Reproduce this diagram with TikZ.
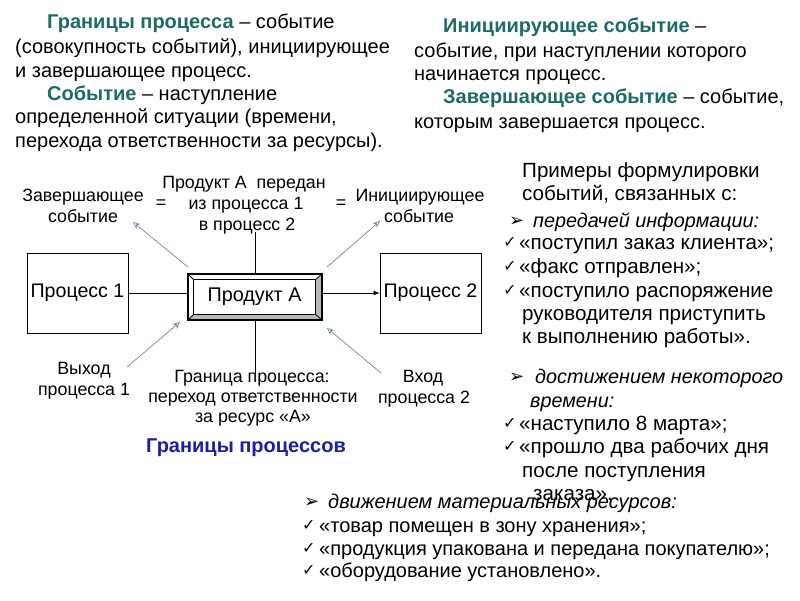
\documentclass[tikz,border=0pt]{standalone}
\usepackage{fontspec}
\setmainfont{Liberation Sans}
\newfontfamily\symfont{DejaVu Sans}
\usetikzlibrary{arrows.meta,positioning}

\definecolor{headteal}{RGB}{28,108,100}
\definecolor{titleblue}{RGB}{28,28,168}
\definecolor{evgray}{RGB}{95,125,155}
\definecolor{bevelgray}{RGB}{185,185,185}

\tikzset{
  txt/.style={anchor=base west, inner sep=0pt, font=\fontsize{20}{23}\selectfont},
  rtxt/.style={anchor=base west, inner sep=0pt, font=\fontsize{20.6}{23}\selectfont},
  itxt/.style={anchor=base west, inner sep=0pt, font=\itshape\fontsize{19.8}{23}\selectfont},
  lbl/.style={anchor=base, inner sep=0pt, font=\fontsize{17.8}{20}\selectfont},
  procbox/.style={draw, line width=0.8pt, minimum width=101pt, minimum height=80pt, inner sep=0pt, font=\fontsize{19.6}{22}\selectfont},
  evarrow/.style={draw=evgray, line width=0.6pt, -{Stealth[open,length=7pt,width=6pt]}},
  tick/.style={anchor=base west, inner sep=0pt, font=\symfont\fontsize{16}{18}\selectfont},
  pointer/.style={anchor=base west, inner sep=0pt, font=\symfont\fontsize{18}{20}\selectfont},
}
\newcommand{\hd}[1]{\textbf{\color{headteal}#1}}

\begin{document}
\begin{tikzpicture}[x=1pt, y=-1pt]
    \fill[white] (0,0) rectangle (800,600);
    \useasboundingbox (0,0) rectangle (800,600);

    % Definitions, top left
    \node[txt] (tl1) at (47,28)  {\hd{Границы процесса} -- событие};
    \node[txt] (tl2) at (15,53)  {(совокупность событий), инициирующее};
    \node[txt] (tl3) at (15,77)  {и завершающее процесс.};
    \node[txt] (tl4) at (47,100) {\hd{Событие} -- наступление};
    \node[txt] (tl5) at (15,123) {определенной ситуации (времени,};
    \node[txt] (tl6) at (15,147) {перехода ответственности за ресурсы).};

    % Definitions, top right
    \node[txt] (tr1) at (443,32)  {\hd{Инициирующее событие} --};
    \node[txt] (tr2) at (414,57)  {событие, при наступлении которого};
    \node[txt] (tr3) at (414,80)  {начинается процесс.};
    \node[txt] (tr4) at (443,103) {\hd{Завершающее событие} -- событие,};
    \node[txt] (tr5) at (414,128) {которым завершается процесс.};

    % Processes and the product between them
    \node[procbox] (p1) at (77.5,293) {Процесс 1};
    \node[procbox] (p2) at (430.5,293) {Процесс 2};
    \node[minimum width=134pt, minimum height=46pt, inner sep=0pt] (prod) at (255,297) {};
    \node[minimum width=121pt, minimum height=34pt, inner sep=0pt,
          font=\fontsize{19.8}{22}\selectfont] (prodin) at (254.5,297) {Продукт А};
    % bevel: shaded right and bottom faces
    \fill[bevelgray] (prod.north east) -- (prodin.north east) -- (prodin.south east) -- (prod.south east) -- cycle;
    \fill[bevelgray] (prod.south west) -- (prodin.south west) -- (prodin.south east) -- (prod.south east) -- cycle;
    \draw[line width=0.8pt] (prodin.north west) rectangle (prodin.south east);
    \foreach \c in {north west,north east,south west,south east}
      \draw[line width=0.8pt] (prod.\c) -- (prodin.\c);
    \draw[line width=2.4pt] (prod.north west) rectangle (prod.south east);

    \draw[line width=0.8pt] (p1.east) -- (p1.east -| prod.west);
    \draw[line width=0.8pt, -{Latex[length=6pt,width=5pt]}] (p2.west -| prod.east) -- (p2.west);

    % Boundary line through the product
    \coordinate (bndtop) at (255,232);
    \coordinate (bndbot) at (255,373);
    \draw[line width=0.6pt] (prod.north) -- (bndtop);
    \draw[line width=0.6pt] (prod.south) -- (bndbot);

    % Labels round the product
    \node[lbl] (endev1) at (83,201) {Завершающее};
    \node[lbl] (endev2) at (83,222) {событие};
    \node[lbl] (eq1) at (161,208) {=};
    \node[lbl] (pass1) at (244,188) {Продукт А\ \ передан};
    \node[lbl] (pass2) at (246,209) {из процесса 1};
    \node[lbl] (pass3) at (247,230) {в процесс 2};
    \node[lbl] (eq2) at (341,208) {=};
    \node[lbl] (iniev1) at (420,201) {Инициирующее};
    \node[lbl] (iniev2) at (419,222) {событие};
    \node[lbl] (out1) at (84,374) {Выход};
    \node[lbl] (out2) at (84,395) {процесса 1};
    \node[lbl] (bnd1) at (252,382) {Граница процесса:};
    \node[lbl] (bnd2) at (253,402) {переход ответственности};
    \node[lbl] (bnd3) at (253,422) {за ресурс «А»};
    \node[lbl] (in1) at (423,382) {Вход};
    \node[lbl] (in2) at (424,403) {процесса 2};
    \node[lbl, font=\bfseries\fontsize{20}{22}\selectfont, text=titleblue] (title) at (246,452) {Границы процессов};

    % Event arrows
    \coordinate (a1s) at (188,267); \coordinate (a1e) at (133,222);
    \coordinate (a2s) at (327,267); \coordinate (a2e) at (380,221);
    \coordinate (a3s) at (127,367); \coordinate (a3e) at (180,322);
    \coordinate (a4s) at (381,373); \coordinate (a4e) at (327,328);
    \foreach \i in {1,...,4}
      \draw[evarrow] (a\i s) -- (a\i e);

    % Examples, right column
    \node[rtxt] (ex1) at (522,177) {Примеры формулировки};
    \node[rtxt] (ex2) at (522,200) {событий, связанных с:};
    \node[pointer] (grp1) at (509,226) {➢};
    \node[itxt] (grp1t) at (533,227) {передачей информации:};
    \foreach \y/\t [count=\i] in {249/{«поступил заказ клиента»;}, 273/{«факс отправлен»;}, 297/{«поступило распоряжение}, 430/{«наступило 8 марта»;}, 453/{«прошло два рабочих дня}} {
      \node[tick] (ck\i) at (503,\y-2) {✓};
      \node[rtxt] (ckt\i) at (519,\y) {\t};
    }
    \node[rtxt] (ckt3b) at (522,320) {руководителя приступить};
    \node[rtxt] (ckt3c) at (522,343) {к выполнению работы».};
    \node[pointer] (grp2) at (509,382) {➢};
    \node[itxt] (grp2t) at (535,383) {достижением некоторого};
    \node[itxt] (grp2u) at (530,407) {времени:};
    \node[rtxt] (ckt5b) at (522,477) {после поступления};
    \node[rtxt] (ckt5c) at (533,500) {заказа».};

    % Examples, bottom
    \node[pointer] (grp3) at (304,507) {➢};
    \node[itxt, font=\itshape\fontsize{20}{23}\selectfont] (grp3t) at (328,508) {движением материальных ресурсов:};
    \foreach \y/\t [count=\i] in {532/{«товар помещен в зону хранения»;}, 555/{«продукция упакована и передана покупателю»;}, 577/{«оборудование установлено».}} {
      \node[tick] (bk\i) at (302,\y-2) {✓};
      \node[txt] (bkt\i) at (319,\y) {\t};
    }
  \end{tikzpicture}
\end{document}
